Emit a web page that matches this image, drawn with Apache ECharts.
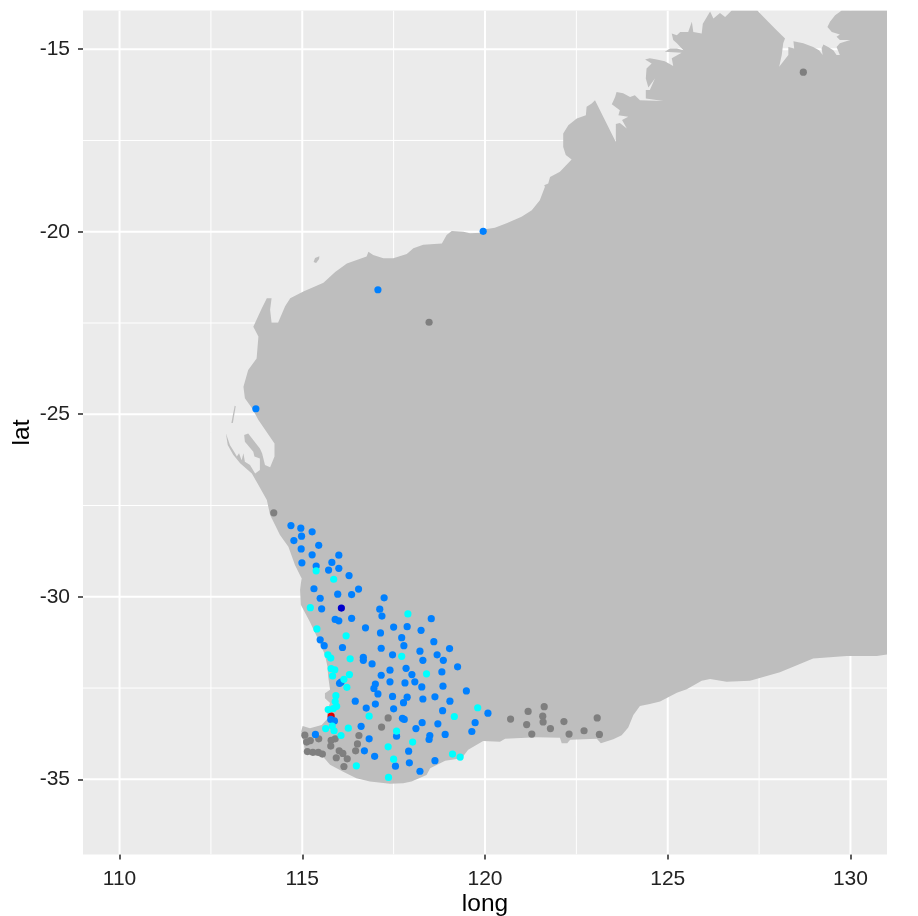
<!DOCTYPE html>
<html>
<head>
<meta charset="utf-8">
<style>html,body{margin:0;padding:0;background:#fff}#c{width:918px;height:916px}</style>
<script src="https://cdn.jsdelivr.net/npm/echarts@6/dist/echarts.min.js"></script>
</head>
<body>
<div id="c"></div>
<script>
const xTicks = [110,115,120,125,130];
const yTicks = [-35,-30,-25,-20,-15];
const xMinor = [112.5,117.5,122.5,127.5];
const yMinor = [-32.5,-27.5,-22.5,-17.5];

const mainland = [[131,-13.94],[129.76,-13.94],[129.58,-14.07],[129.44,-14.25],[129.37,-14.39],[129.49,-14.53],[129.71,-14.60],[129.62,-14.66],[129.71,-14.75],[129.99,-14.75],[129.71,-14.84],[129.62,-14.94],[129.71,-15.16],[129.62,-15.16],[129.53,-15.03],[129.39,-14.94],[129.26,-14.87],[129.21,-14.98],[129.24,-15.16],[129.14,-15.03],[128.98,-14.94],[128.71,-14.84],[128.44,-14.78],[128.46,-14.98],[128.30,-14.94],[128.30,-15.16],[128.05,-15.48],[128.12,-15.16],[128.16,-14.84],[128.21,-14.71],[127.98,-14.48],[127.75,-14.25],[127.45,-13.94],[126.75,-13.94],[126.57,-14.12],[126.43,-14.01],[126.25,-14.16],[126.16,-13.97],[126.07,-14.12],[125.96,-14.30],[125.93,-14.57],[125.70,-14.53],[125.66,-14.25],[125.56,-14.53],[125.34,-14.53],[125.25,-14.62],[125.11,-14.57],[125.15,-14.75],[125.25,-14.84],[125.43,-15.03],[125.25,-14.98],[125.06,-14.98],[124.92,-15.07],[125.38,-15.10],[125.11,-15.25],[125.15,-15.46],[124.92,-15.33],[124.70,-15.28],[124.51,-15.25],[124.38,-15.28],[124.56,-15.39],[124.42,-15.53],[124.40,-15.80],[124.47,-16.05],[124.65,-15.80],[124.51,-16.12],[124.40,-16.12],[124.40,-16.35],[124.88,-16.42],[124.24,-16.40],[124.10,-16.26],[123.97,-16.31],[123.78,-16.21],[123.60,-16.17],[123.56,-16.31],[123.47,-16.51],[123.69,-16.67],[123.65,-16.81],[123.92,-16.85],[123.75,-16.94],[123.88,-17.17],[123.69,-17.02],[123.58,-17.05],[123.58,-17.54],[123.01,-16.40],[122.92,-16.49],[122.78,-16.58],[122.76,-16.81],[122.51,-16.90],[122.28,-17.08],[122.14,-17.31],[122.14,-17.68],[122.21,-17.90],[122.37,-18.02],[122.05,-18.36],[121.78,-18.50],[121.73,-18.68],[121.62,-18.73],[121.64,-18.77],[121.50,-19.14],[121.28,-19.41],[121.00,-19.59],[120.59,-19.77],[120.27,-19.89],[120.00,-19.93],[119.91,-20.03],[119.59,-20.04],[119.41,-20.00],[119.09,-19.98],[118.95,-20.09],[118.82,-20.32],[118.31,-20.36],[118.04,-20.45],[117.86,-20.61],[117.49,-20.73],[117.22,-20.73],[116.94,-20.64],[116.81,-20.55],[116.76,-20.68],[116.22,-20.87],[115.90,-21.10],[115.58,-21.40],[115.03,-21.64],[114.67,-21.82],[114.53,-22.04],[114.34,-22.49],[114.16,-22.49],[114.12,-22.14],[114.16,-21.82],[114.03,-21.82],[113.89,-22.10],[113.66,-22.60],[113.80,-22.87],[113.75,-23.47],[113.52,-23.79],[113.39,-24.25],[113.43,-24.56],[113.63,-24.84],[113.80,-25.16],[114.24,-25.80],[114.24,-26.16],[114.12,-26.45],[113.98,-26.39],[113.90,-26.07],[113.84,-25.94],[113.52,-25.53],[113.41,-25.57],[113.43,-25.75],[113.66,-26.03],[113.69,-26.16],[113.84,-26.21],[113.84,-26.53],[113.71,-26.62],[113.57,-26.39],[113.43,-26.30],[113.39,-26.07],[113.34,-26.26],[113.27,-26.07],[113.21,-26.16],[113.16,-26.07],[113.02,-25.84],[112.91,-25.52],[112.96,-25.84],[113.11,-26.11],[113.30,-26.34],[113.62,-26.62],[113.80,-26.94],[114.03,-27.35],[114.12,-27.76],[114.39,-28.31],[114.62,-28.63],[114.80,-29.13],[114.98,-29.49],[114.94,-29.81],[114.96,-30.22],[115.21,-30.69],[115.44,-31.18],[115.62,-31.59],[115.69,-31.92],[115.71,-32.19],[115.76,-32.55],[115.62,-32.64],[115.62,-32.78],[115.76,-32.91],[115.67,-33.14],[115.71,-33.32],[115.53,-33.51],[115.21,-33.60],[115.01,-33.54],[114.97,-33.69],[115.07,-34.19],[115.16,-34.33],[115.57,-34.38],[115.76,-34.60],[116.12,-34.79],[116.48,-34.97],[116.85,-35.06],[117.40,-35.12],[117.76,-35.11],[117.99,-35.06],[118.40,-34.88],[118.50,-34.70],[118.91,-34.49],[119.36,-34.42],[119.54,-34.19],[119.95,-33.95],[120.41,-33.97],[120.55,-33.89],[121.41,-33.85],[122.05,-33.86],[122.10,-34.01],[122.25,-34.01],[122.33,-33.92],[123.06,-33.89],[123.17,-34.01],[123.51,-33.90],[123.74,-33.79],[123.92,-33.58],[124.06,-33.24],[124.24,-32.99],[124.51,-32.94],[124.79,-32.87],[125.25,-32.63],[125.52,-32.53],[125.93,-32.30],[126.16,-32.25],[126.61,-32.33],[127.25,-32.30],[128.07,-32.07],[128.98,-31.69],[129.90,-31.62],[130.72,-31.62],[131,-31.58]];
const barrowIsland = [[115.31,-20.83],[115.35,-20.72],[115.47,-20.67],[115.46,-20.75],[115.38,-20.86]];
const dirkHartogIsland = [[113.15,-24.77],[113.18,-24.78],[113.10,-25.24],[113.06,-25.24]];

const grayPoints = [[114.22,-27.70],[118.47,-22.48],[128.71,-15.63],[117.35,-33.32],[117.17,-33.57],[115.07,-33.79],[116.55,-33.80],[115.45,-33.89],[115.90,-33.89],[115.79,-33.93],[115.22,-33.94],[115.12,-33.98],[116.51,-34.03],[115.78,-34.09],[116.46,-34.22],[116.01,-34.22],[116.11,-34.29],[115.14,-34.24],[115.29,-34.26],[115.44,-34.26],[115.55,-34.31],[115.93,-34.41],[116.23,-34.44],[116.14,-34.65],[120.70,-33.35],[121.18,-33.14],[121.62,-33.01],[121.58,-33.27],[121.59,-33.43],[121.14,-33.50],[121.28,-33.76],[121.79,-33.61],[122.16,-33.42],[122.30,-33.76],[122.71,-33.67],[123.07,-33.32],[123.13,-33.77]];
const redPoints = [[115.79,-33.27]];
const bluePoints = [[114.69,-28.05],[114.96,-28.12],[115.27,-28.22],[114.98,-28.34],[114.77,-28.46],[115.45,-28.59],[114.97,-28.69],[115.27,-28.85],[116.00,-28.86],[115.81,-29.06],[114.99,-29.07],[115.38,-29.16],[116.00,-29.22],[115.72,-29.27],[116.28,-29.42],[115.32,-29.78],[116.54,-29.79],[115.97,-29.93],[116.35,-29.94],[115.49,-30.04],[117.24,-30.03],[115.53,-30.33],[117.12,-30.34],[117.18,-30.53],[115.90,-30.62],[116.00,-30.66],[116.35,-30.59],[116.73,-30.85],[117.14,-30.99],[115.49,-31.18],[115.60,-31.34],[116.10,-31.39],[117.16,-31.41],[117.47,-31.59],[116.67,-31.66],[116.67,-31.74],[116.91,-31.84],[117.40,-32.01],[117.16,-32.15],[116.06,-32.34],[116.02,-32.37],[117.40,-32.33],[117.00,-32.39],[116.96,-32.51],[117.07,-32.66],[117.47,-32.73],[116.45,-32.86],[117.00,-32.94],[116.75,-33.05],[117.50,-33.07],[115.78,-33.36],[115.88,-33.40],[116.61,-33.55],[115.36,-33.77],[117.58,-33.82],[116.83,-33.89],[116.70,-34.22],[116.98,-34.37],[117.55,-34.64],[118.53,-30.60],[117.50,-30.83],[117.87,-30.82],[118.25,-30.92],[117.72,-31.12],[118.60,-31.23],[117.78,-31.34],[119.03,-31.42],[118.22,-31.49],[118.69,-31.59],[118.30,-31.74],[118.86,-31.74],[119.25,-31.92],[117.84,-31.96],[118.82,-32.06],[118.00,-32.13],[118.08,-32.33],[117.81,-32.36],[118.27,-32.47],[118.85,-32.45],[119.49,-32.58],[117.87,-32.75],[118.63,-32.74],[118.30,-32.80],[117.77,-32.90],[119.04,-32.86],[118.84,-33.12],[120.08,-33.19],[117.74,-33.33],[117.79,-33.36],[118.28,-33.45],[118.71,-33.48],[119.73,-33.45],[118.11,-33.61],[119.64,-33.69],[118.91,-33.77],[118.49,-33.80],[118.47,-33.91],[117.91,-34.23],[117.93,-34.55],[118.63,-34.49],[118.22,-34.78],[117.07,-21.59],[113.73,-24.85],[119.95,-19.99]];
const cyanPoints = [[115.38,-29.29],[115.86,-29.52],[115.22,-30.30],[115.40,-30.88],[116.20,-31.07],[115.70,-31.59],[115.78,-31.68],[116.31,-31.70],[115.79,-31.97],[115.89,-32.00],[116.29,-32.13],[115.83,-32.17],[116.14,-32.26],[116.22,-32.48],[115.92,-32.71],[115.90,-32.87],[115.94,-33.00],[115.85,-33.06],[115.71,-33.09],[116.83,-33.27],[115.82,-33.54],[115.64,-33.61],[115.87,-33.67],[116.26,-33.60],[117.58,-33.68],[116.06,-33.80],[117.35,-34.11],[117.50,-34.45],[116.48,-34.63],[117.36,-34.95],[117.89,-30.47],[117.72,-31.63],[118.40,-32.11],[119.80,-33.04],[119.16,-33.28],[118.02,-33.98],[119.11,-34.31],[119.32,-34.39]];
const darkBluePoints = [[116.07,-30.31]];

const landShapes = [mainland, barrowIsland, dirkHartogIsland];

function gridSeries(values, isX, width) {
  return {
    type: 'custom', silent: true, z: 1, clip: true,
    data: values.map(v => [v]),
    encode: isX ? {x: 0} : {y: 0},
    renderItem: function (params, api) {
      const v = api.value(0);
      const a = isX ? api.coord([v, -37.06]) : api.coord([109, v]);
      const b = isX ? api.coord([v, -13.94]) : api.coord([131, v]);
      return {type: 'line', shape: {x1: a[0], y1: a[1], x2: b[0], y2: b[1]},
        style: {stroke: '#FFFFFF', lineWidth: width}};
    }
  };
}
function dots(points, color, z) {
  return {type: 'scatter', data: points, symbol: 'circle', symbolSize: 7.2, z: z,
    itemStyle: {color: color, opacity: 1}, silent: true};
}

const chart = echarts.init(document.getElementById('c'), null, {renderer: 'canvas'});
chart.setOption({
  animation: false,
  backgroundColor: '#FFFFFF',
  textStyle: {fontFamily: '"Liberation Sans", Arial, sans-serif'},
  grid: {left: 83, right: 31, top: 10.5, bottom: 61.5, show: true, backgroundColor: '#EBEBEB', borderWidth: 0, outerBoundsMode: 'none', containLabel: false},
  xAxis: {
    type: 'value', min: 109, max: 131, name: 'long', nameLocation: 'middle', nameGap: 37, nameMoveOverlap: false,
    nameTextStyle: {fontSize: 24.5, color: '#000', fontFamily: '"Liberation Sans"'},
    axisLine: {show: false}, splitLine: {show: false},
    axisTick: {show: true, length: 5, customValues: xTicks, lineStyle: {color: '#333', width: 1.6}},
    axisLabel: {customValues: xTicks, fontSize: 21, color: '#222', margin: 14, fontFamily: '"Liberation Sans"'}
  },
  yAxis: {
    type: 'value', min: -37.06, max: -13.94, name: 'lat', nameLocation: 'middle', nameGap: 48, nameMoveOverlap: false,
    nameTextStyle: {fontSize: 24.5, color: '#000', fontFamily: '"Liberation Sans"'},
    axisLine: {show: false}, splitLine: {show: false},
    axisTick: {show: true, length: 5, customValues: yTicks, lineStyle: {color: '#333', width: 1.6}},
    axisLabel: {customValues: yTicks, fontSize: 21, color: '#222', margin: 13, fontFamily: '"Liberation Sans"'}
  },
  series: [
    gridSeries(xMinor, true, 1),
    gridSeries(yMinor, false, 1),
    gridSeries(xTicks, true, 2),
    gridSeries(yTicks, false, 2),
    {
      type: 'custom', silent: true, z: 2, clip: true,
      data: landShapes.map((s, i) => [s[0][0], s[0][1], i]),
      renderItem: function (params, api) {
        const shape = landShapes[api.value(2)];
        return {type: 'polygon', shape: {points: shape.map(p => api.coord(p))},
          style: {fill: '#BEBEBE', stroke: 'none'}};
      }
    },
    dots(grayPoints, '#7F7F7F', 3),
    dots(redPoints, '#E00000', 3),
    dots(bluePoints, '#0080FF', 4),
    dots(cyanPoints, '#00FFFF', 5),
    dots(darkBluePoints, '#0000CD', 6)
  ]
});
</script>
</body>
</html>
